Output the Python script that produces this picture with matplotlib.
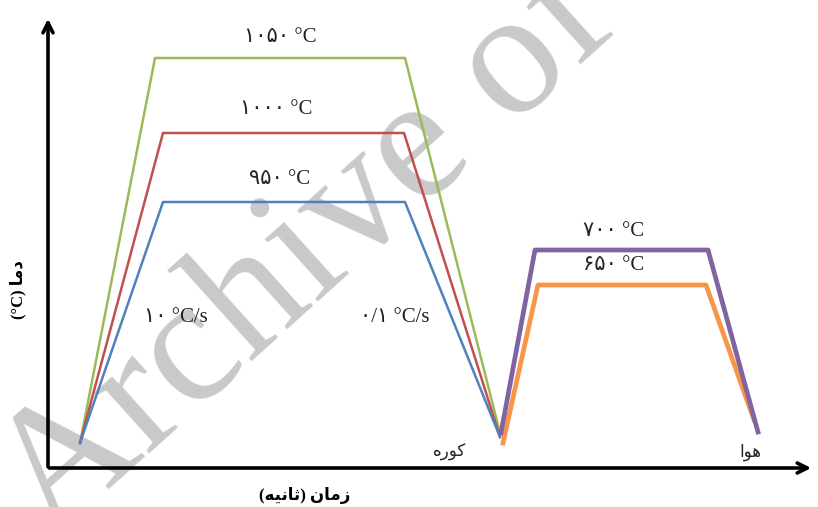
#!/usr/bin/env python3
"""Schematic heat-treatment cycles (austenitizing + tempering), Persian labels."""

import matplotlib
matplotlib.use('Agg')
import matplotlib.pyplot as plt

# ============ DATA ============
# time / temperature in schematic units (origin at the axes corner)
heat_time = [32, 107, 357, 452]
green_temp = [25, 410, 410, 35]          # 1050 C
red_time = [32, 115, 356, 452]
red_temp = [25, 335, 335, 31]            # 1000 C
blue_time = [32, 115, 357, 452]
blue_temp = [25, 266, 266, 31]           # 950 C
purple_time = [453, 487, 660, 710]
purple_temp = [35, 218, 218, 36]         # 700 C
orange_time = [455, 490, 658, 706]
orange_temp = [25, 183, 183, 48]         # 650 C

# Persian digits, already in display order
peak_labels = ['\u06f1\u06f0\u06f5\u06f0 \u00b0C', '\u06f1\u06f0\u06f0\u06f0 \u00b0C',
               '\u06f9\u06f5\u06f0 \u00b0C', '\u06f7\u06f0\u06f0 \u00b0C', '\u06f6\u06f5\u06f0 \u00b0C']
rate_heat = '\u06f1\u06f0 \u00b0C/s'
rate_cool = '\u06f0/\u06f1 \u00b0C/s'
# Arabic presentation forms in visual (left-to-right) order
furnace_label = '\ufee9\ufead\ufeee\ufb90'                      # کوره
air_label = '\ufe8d\ufeee\ufeeb'                                # هوا
xlabel = '(\ufeea\ufbff\ufee7\ufe8e\ufe9b) \ufee5\ufe8e\ufee3\ufeaf'   # زمان (ثانیه)
ylabel = '(\u00b0C) \ufe8e\ufee3\ufea9'                         # دما (°C)

FONT = ['Liberation Serif', 'DejaVu Sans']

fig = plt.figure(figsize=(8.18, 5.07), dpi=100)
ax = fig.add_axes([0, 0, 1, 1])
ax.set_xlim(-48, 770)
ax.set_ylim(-39, 468)
ax.axis('off')

# watermark, under the curves
ax.text(0.063, -0.068, 'Archive of SID', fontsize=128, family='Liberation Serif',
        color='#c9c9c9', rotation=42, ha='left', va='baseline', zorder=1,
        rotation_mode='anchor', transform=fig.transFigure, clip_on=False)

# axes with arrows
ax.annotate('', xy=(766, 0), xytext=(-1.5, 0),
            arrowprops=dict(arrowstyle='->', lw=2.6, color='black', mutation_scale=18))
ax.annotate('', xy=(0, 452), xytext=(0, -1.5),
            arrowprops=dict(arrowstyle='->', lw=2.6, color='black', mutation_scale=18))

ax.plot(heat_time, green_temp, color='#9bbb59', lw=1.8, zorder=3)
ax.plot(red_time, red_temp, color='#c0504d', lw=1.8, zorder=3)
ax.plot(blue_time, blue_temp, color='#4f81bd', lw=1.8, zorder=3)
ax.plot(orange_time, orange_temp, color='#f79646', lw=3.4, zorder=3)
ax.plot(purple_time, purple_temp, color='#8064a2', lw=3.4, zorder=4)

txt = dict(family=FONT, fontsize=15, ha='center', va='center', color='#222222', zorder=5)
ax.text(232, 430, peak_labels[0], **txt)
ax.text(228, 358, peak_labels[1], **txt)
ax.text(232, 288, peak_labels[2], **txt)
ax.text(566, 237, peak_labels[3], **txt)
ax.text(566, 202, peak_labels[4], **txt)
ax.text(128, 150, rate_heat, **txt)
ax.text(347, 150, rate_cool, **txt)

lab = dict(family=FONT, fontsize=12, ha='center', va='center', color='#222222', zorder=5)
ax.text(402, 16, furnace_label, **lab)
ax.text(702, 16, air_label, **lab)
ax.text(257, -27, xlabel, family=FONT, fontsize=12, fontweight='bold',
        ha='center', va='center')
ax.text(-30, 178, ylabel, family=FONT, fontsize=12, fontweight='bold',
        ha='center', va='center', rotation=90)

fig.savefig('out.png', dpi=100)
